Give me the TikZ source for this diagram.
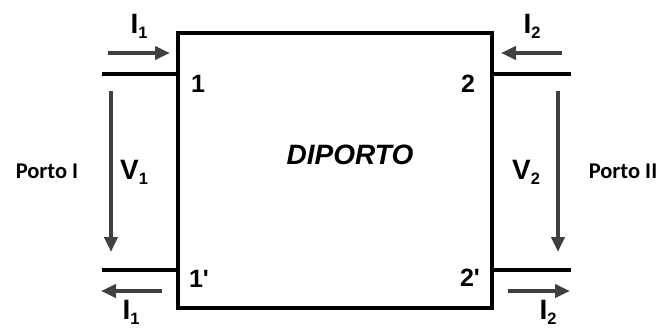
\documentclass[tikz,border=0pt]{standalone}
\usepackage{fontspec}
\setmainfont{Liberation Sans}
\newfontfamily\straightfont{Liberation Sans}
\newfontfamily\calib{Carlito}
\usetikzlibrary{arrows.meta}
\definecolor{arrgray}{HTML}{404040}
\newcommand{\sq}{{\straightfont\bfseries\char39}}
\newcommand{\sbs}[1]{\raisebox{-5pt}{\fontsize{16.5}{17}\selectfont #1}}
\tikzset{
  wire/.style={line width=3.7pt,black},
  cur/.style={line width=3.8pt,arrgray,-{Triangle[length=15pt,width=13pt]}},
  lab/.style={font=\fontsize{28}{30}\selectfont\bfseries,inner sep=0pt},
  term/.style={font=\fontsize{25}{27}\selectfont\bfseries,inner sep=0pt},
  port/.style={font=\calib\fontsize{22.5}{24}\selectfont\bfseries,inner sep=0pt},
}
\begin{document}
\begin{tikzpicture}[x=1pt,y=-1pt]
\useasboundingbox (0,0) rectangle (664,327);
\node[draw,line width=3.7pt,minimum width=314pt,minimum height=275pt,inner sep=0pt] (box) at (335,170.5) {};
\node[font=\fontsize{28}{30}\selectfont\bfseries\itshape,inner sep=0pt] (dip) at (350,155) {DIPORTO};
% leads
\coordinate (l1) at (102,74);
\coordinate (l1p) at (102,270);
\coordinate (r2) at (571,74);
\coordinate (r2p) at (571,270);
\draw[wire] (l1) -- (l1 -| box.west);
\draw[wire] (l1p) -- (l1p -| box.west);
\draw[wire] (r2) -- (r2 -| box.east);
\draw[wire] (r2p) -- (r2p -| box.east);
% terminal labels
\node[term] (t1) at (198,84) {1};
\node[term] (t2) at (468,84) {2};
\node[term] (t1p) at (199,279) {1\sq};
\node[term] (t2p) at (470,278) {2\sq};
% currents
\coordinate (a1s) at (108,53); \coordinate (a1e) at (170,53);
\draw[cur] (a1s) -- (a1e);
\coordinate (b1s) at (162,291); \coordinate (b1e) at (101,291);
\draw[cur] (b1s) -- (b1e);
\coordinate (a2s) at (562,53); \coordinate (a2e) at (501,53);
\draw[cur] (a2s) -- (a2e);
\coordinate (b2s) at (508,291); \coordinate (b2e) at (570,291);
\draw[cur] (b2s) -- (b2e);
\node[lab] (i1t) at (139,26) {I\sbs{1}};
\node[lab] (i1b) at (131,312) {I\sbs{1}};
\node[lab] (i2t) at (532,26) {I\sbs{2}};
\node[lab] (i2b) at (548,312) {I\sbs{2}};
% voltages
\coordinate (v1s) at (111,91); \coordinate (v1e) at (111,252);
\draw[cur] (v1s) -- (v1e);
\coordinate (v2s) at (558,91); \coordinate (v2e) at (558,252);
\draw[cur] (v2s) -- (v2e);
\node[lab] (v1) at (134,172) {V\sbs{1}};
\node[lab] (v2) at (526,172) {V\sbs{2}};
\node[port] (p1) at (47,171) {Porto I};
\node[port] (p2) at (623,171) {Porto II};
\end{tikzpicture}
\end{document}
